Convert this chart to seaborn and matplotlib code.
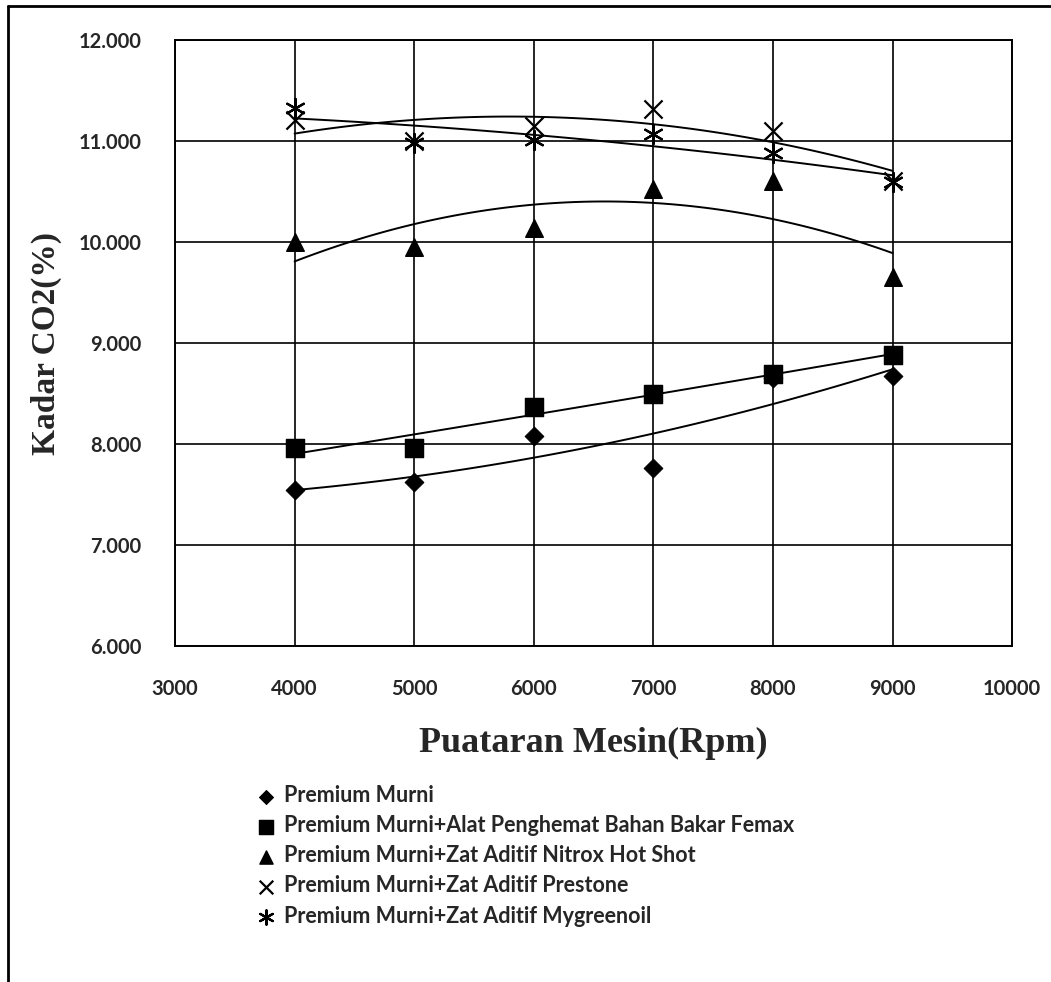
import numpy as np
import seaborn as sns
import matplotlib
matplotlib.use("Agg")
import matplotlib.pyplot as plt
from matplotlib.lines import Line2D
from matplotlib.ticker import FormatStrFormatter, MultipleLocator

rpm = [4000, 5000, 6000, 7000, 8000, 9000]

premium = [7.55, 7.62, 8.08, 7.76, 8.65, 8.67]
femax = [7.96, 7.96, 8.37, 8.50, 8.69, 8.88]
nitrox = [10.00, 9.95, 10.14, 10.52, 10.60, 9.65]
prestone = [11.21, 11.00, 11.15, 11.32, 11.10, 10.60]
mygreenoil = [11.33, 10.98, 11.01, 11.07, 10.88, 10.59]

labels = [
    "Premium Murni",
    "Premium Murni+Alat Penghemat Bahan Bakar Femax",
    "Premium Murni+Zat Aditif Nitrox Hot Shot",
    "Premium Murni+Zat Aditif Prestone",
    "Premium Murni+Zat Aditif Mygreenoil",
]
series = [premium, femax, nitrox, prestone, mygreenoil]
markers = ["D", "s", "^", "x", (6, 2, 0)]
sizes = [90, 170, 160, 170, 190]

sns.set_style("white")
plt.rcParams["font.family"] = ["Lato", "DejaVu Sans"]

fig = plt.figure(figsize=(10.51, 9.82), dpi=100)
ax = fig.add_axes([0.1665, 0.342, 0.7965, 0.6173])

for vals, lab, m, s in zip(series, labels, markers, sizes):
    filled = m in ("D", "s", "^")
    kw = dict(edgecolor="k") if filled else dict(linewidth=1.6)
    sns.scatterplot(x=rpm, y=vals, marker=m, s=s, color="k", label=lab,
                    ax=ax, zorder=4, **kw)
    # second-order trendline, like the Excel polynomial fit
    sns.regplot(x=rpm, y=vals, order=2, ci=None, scatter=False, ax=ax,
                color="k", line_kws=dict(linewidth=1.4, zorder=3))

ax.set_xlim(3000, 10000)
ax.set_ylim(6, 12)
ax.xaxis.set_major_locator(MultipleLocator(1000))
ax.yaxis.set_major_locator(MultipleLocator(1))
ax.yaxis.set_major_formatter(FormatStrFormatter("%.3f"))
ax.grid(True, color="k", linewidth=1.2)
ax.set_axisbelow(True)
for sp in ax.spines.values():
    sp.set_color("k")
    sp.set_linewidth(1.4)
ax.tick_params(length=0, labelsize=14.5, pad=24)
for t in ax.get_xticklabels() + ax.get_yticklabels():
    t.set_fontweight("bold")

ax.set_xlabel("Puataran Mesin(Rpm)", family="Liberation Serif",
              fontweight="bold", fontsize=26, labelpad=20)
ax.set_ylabel("Kadar CO2(%)", family="Liberation Serif",
              fontweight="bold", fontsize=24, labelpad=12)

ax.get_legend().remove()
handles, labs = ax.get_legend_handles_labels()
fig.legend(handles, labs, loc="upper left", bbox_to_anchor=(0.236, 0.209),
           frameon=False, prop=dict(family="Lato", weight="bold", size=15.5),
           handlelength=0.9, handletextpad=0.35, labelspacing=0.42,
           borderaxespad=0, markerscale=0.75)

# outer frame of the original figure (left and top only)
fig.add_artist(Line2D([0.008, 0.008], [0, 0.994], color="k", linewidth=2,
                      transform=fig.transFigure))
fig.add_artist(Line2D([0.008, 1.0], [0.994, 0.994], color="k", linewidth=2,
                      transform=fig.transFigure))

fig.savefig("out.png", dpi=100)
